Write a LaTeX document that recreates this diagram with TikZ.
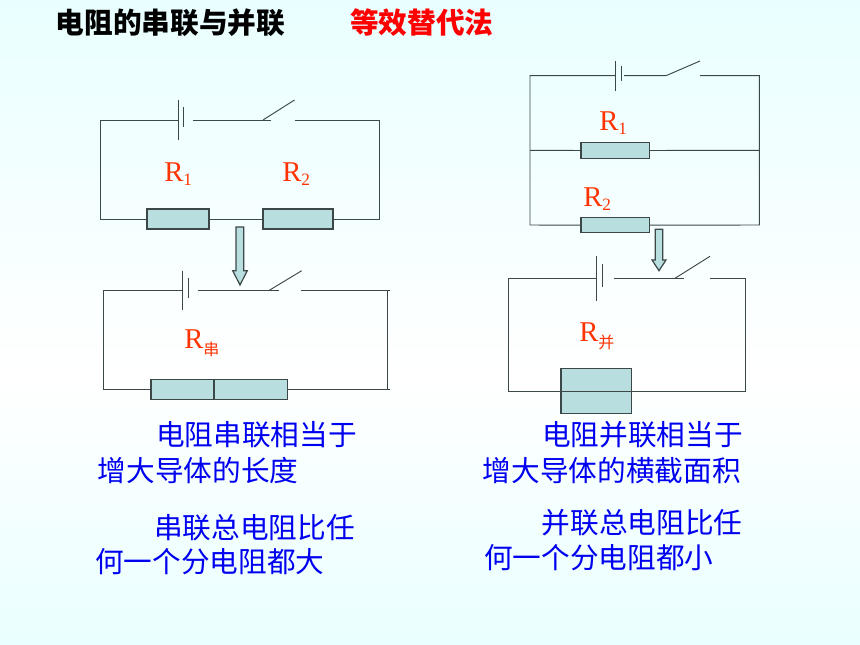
\documentclass[tikz,border=0pt]{standalone}
\usepackage{fontspec}
\setmainfont{Noto Sans CJK SC}
\newfontfamily\latinfont{Liberation Serif}
\definecolor{skytop}{RGB}{214,255,255}
\definecolor{skymid}{RGB}{255,255,255}
\definecolor{skybot}{RGB}{208,255,255}
\definecolor{resfill}{RGB}{184,222,224}
\definecolor{wiregray}{RGB}{60,72,72}
\definecolor{labred}{RGB}{255,51,0}
\definecolor{textblue}{RGB}{0,0,240}
\pgfdeclareverticalshading{skyshade}{100bp}{color(0bp)=(skybot); color(46bp)=(skymid); color(100bp)=(skytop)}
\tikzset{
  wire/.style={draw=wiregray,line width=0.7pt},
  res/.style={draw=wiregray,line width=0.9pt,fill=resfill,inner sep=0pt,outer sep=0pt},
  bigarrow/.style={draw=wiregray,line width=0.9pt,fill=resfill,line join=miter},
  lab/.style={text=labred,inner sep=0pt,anchor=west,font=\latinfont\fontsize{21.5}{24}\selectfont},
  head/.style={inner sep=0pt,anchor=west,font=\fontsize{21.5}{26}\selectfont\bfseries},
  note/.style={text=textblue,inner sep=0pt,anchor=west,font=\fontsize{21.5}{26}\selectfont},
}
\newcommand{\subnum}[1]{\raisebox{-3.5pt}{\fontsize{13}{13}\selectfont #1}}
\newcommand{\subcjk}[1]{\raisebox{-5pt}{\fontsize{12}{12}\selectfont\normalfont #1}}
\begin{document}
\begin{tikzpicture}[x=0.75pt,y=-0.75pt]
  \shade[shading=skyshade] (0,0) rectangle (860,645);

  \node[head] (titleA) at (55.5,22.5) {电阻的串联与并联};
  \node[head,text=red] (titleB) at (350,22.5) {等效替代法};

  \coordinate (A) at (100,120);
  \coordinate (B) at (100,219);
  \coordinate (C) at (379.5,219);
  \coordinate (D) at (379.5,120);
  \coordinate (Aa) at (178,100);
  \coordinate (Ab) at (178,140);
  \coordinate (Ac) at (178,120);
  \coordinate (Ad) at (183.7,107);
  \coordinate (Ae) at (183.7,127);
  \coordinate (Af) at (193,120);
  \coordinate (Ag) at (271,120);
  \coordinate (Ah) at (263,120);
  \coordinate (Ai) at (294.5,100);
  \coordinate (Aj) at (294.5,120);
  \node[res,minimum width=46.5pt,minimum height=15pt] (R1) at (178,219) {};
  \node[res,minimum width=52.5pt,minimum height=15pt] (R2) at (298,219) {};
  \draw[wire] (Ac) -- (A) -- (B) -- (R1.west);
  \draw[wire] (R1.east) -- (R2.west);
  \draw[wire] (R2.east) -- (C) -- (D) -- (Aj);
  \draw[wire] (Aa) -- (Ab);
  \draw[wire] (Ad) -- (Ae);
  \draw[wire] (Af) -- (Ag);
  \draw[wire] (Ah) -- (Ai);
  \node[lab] (L1) at (164,174) {R\subnum{1}};
  \node[lab] (L2) at (282,174) {R\subnum{2}};

  \draw[bigarrow] (236,227) -- (243.7,227) -- (243.7,270.7) -- (247.3,270.7) -- (240,285) -- (232.7,270.7) -- (236,270.7) -- cycle;

  \coordinate (E) at (103.7,290.3);
  \coordinate (F) at (103.7,389.3);
  \coordinate (G) at (387.3,389.3);
  \coordinate (H) at (387.3,290.3);
  \coordinate (Ga) at (390,389.3);
  \coordinate (Ha) at (390,290.3);
  \coordinate (Ba) at (182.7,270.7);
  \coordinate (Bb) at (182.7,310);
  \coordinate (Bc) at (182.7,290.3);
  \coordinate (Bd) at (188.3,277.7);
  \coordinate (Be) at (188.3,297.7);
  \coordinate (Bf) at (197.7,290.3);
  \coordinate (Bg) at (279,290.3);
  \coordinate (Bh) at (269.3,290.3);
  \coordinate (Bi) at (301.7,270.7);
  \coordinate (Bj) at (300.7,290.3);
  \node[res,minimum width=102.2pt,minimum height=15pt] (Rs) at (219.2,389.3) {};
  \coordinate (Rsa) at (214,379.3);
  \coordinate (Rsb) at (214,399.3);
  \draw[wire] (Bc) -- (E) -- (F) -- (Rs.west);
  \draw[wire] (Rs.east) -- (Ga);
  \draw[wire] (Bj) -- (Ha);
  \draw[wire] (H) -- (G);
  \draw[wire] (Ba) -- (Bb);
  \draw[wire] (Bd) -- (Be);
  \draw[wire] (Bf) -- (Bg);
  \draw[wire] (Bh) -- (Bi);
  \draw[wire,line width=0.9pt] (Rsa) -- (Rsb);
  \node[lab] (L3) at (184,343) {R\subcjk{串}};

  \coordinate (J) at (530,75.7);
  \coordinate (K) at (530,150.3);
  \coordinate (M) at (530,225);
  \coordinate (N) at (759.3,225);
  \coordinate (P) at (759.3,150.3);
  \coordinate (Q) at (759.3,75.7);
  \coordinate (Ca) at (615.3,61);
  \coordinate (Cb) at (615.3,90.7);
  \coordinate (Cc) at (615.3,75.7);
  \coordinate (Cd) at (621.3,66);
  \coordinate (Ce) at (621.3,81);
  \coordinate (Cf) at (624,75.7);
  \coordinate (Cg) at (666,75.7);
  \coordinate (Ci) at (700,61);
  \coordinate (Cj) at (700,75.7);
  \node[res,minimum width=51.2pt,minimum height=11.5pt] (Ra) at (615.2,150.5) {};
  \node[res,minimum width=51.2pt,minimum height=11.5pt] (Rb) at (615.2,225.2) {};
  \draw[wire] (Cc) -- (J) -- (K) -- (M) -- (Rb.west);
  \draw[wire] (Rb.east) -- (N) -- (P) -- (Q) -- (Cj);
  \draw[wire] (K) -- (Ra.west);
  \draw[wire] (Ra.east) -- (P);
  \draw[wire] (Ca) -- (Cb);
  \draw[wire] (Cd) -- (Ce);
  \draw[wire] (Cf) -- (Cg) -- (Ci);
  \node[lab] (L4) at (599,123) {R\subnum{1}};
  \node[lab] (L5) at (583,199) {R\subnum{2}};

  \draw[bigarrow] (655.3,229.3) -- (662.7,229.3) -- (662.7,260) -- (666,260) -- (659,270.7) -- (652,260) -- (655.3,260) -- cycle;

  \coordinate (S) at (508.7,278.3);
  \coordinate (T) at (508.7,391);
  \coordinate (U) at (745.3,391);
  \coordinate (V) at (745.3,278.3);
  \coordinate (Da) at (596.7,256.3);
  \coordinate (Db) at (596.7,301);
  \coordinate (Dc) at (596.7,278.3);
  \coordinate (Dd) at (602.7,264.3);
  \coordinate (De) at (602.7,286.7);
  \coordinate (Df) at (614,278.3);
  \coordinate (Dg) at (684,278.3);
  \coordinate (Dh) at (675,278.3);
  \coordinate (Di) at (710,256.3);
  \coordinate (Dj) at (710,278.3);
  \node[res,minimum width=52.7pt,minimum height=33.7pt] (Rp) at (596.2,391.2) {};
  \draw[wire] (Dc) -- (S) -- (T) -- (U) -- (V) -- (Dj);
  \draw[wire] (Da) -- (Db);
  \draw[wire] (Dd) -- (De);
  \draw[wire] (Df) -- (Dg);
  \draw[wire] (Dh) -- (Di);
  \draw[wire] (Rp.west) -- (Rp.east);
  \node[lab] (L6) at (579,336) {R\subcjk{并}};

  \node[note] (n1) at (156,434.5) {电阻串联相当于};
  \node[note] (n2) at (97.5,470.5) {增大导体的长度};
  \node[note] (n3) at (154,527.5) {串联总电阻比任};
  \node[note] (n4) at (95,561.5) {何一个分电阻都大};
  \node[note] (n5) at (542,434.5) {电阻并联相当于};
  \node[note] (n6) at (482.5,470.5) {增大导体的横截面积};
  \node[note] (n7) at (541.5,522.5) {并联总电阻比任};
  \node[note] (n8) at (484,557.5) {何一个分电阻都小};
\end{tikzpicture}
\end{document}
